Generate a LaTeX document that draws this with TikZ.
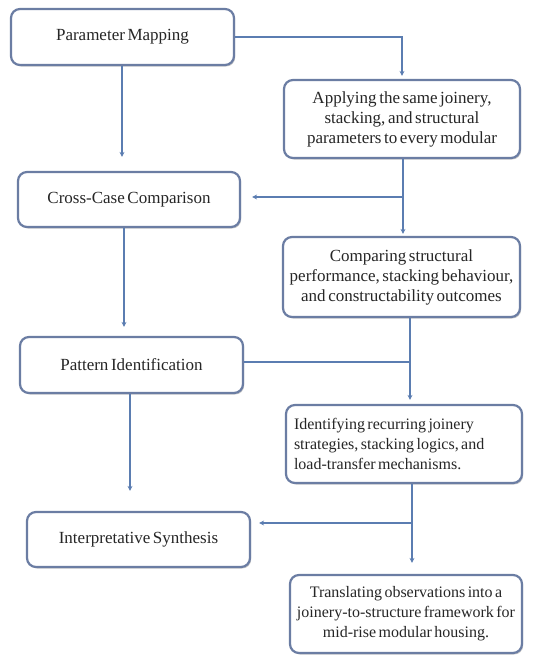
\documentclass[tikz,border=0pt]{standalone}
\usepackage{fontspec}
\setmainfont{Liberation Serif}
\usetikzlibrary{arrows.meta,shadows}
\definecolor{boxline}{HTML}{6B7DA3}
\definecolor{connblue}{HTML}{5B7DB1}
\newcommand{\boxfont}{\fontsize{17}{20}\selectfont\spaceskip=2.6pt plus 1pt minus 0.5pt\relax}
\newcommand{\smallboxfont}{\fontsize{16}{20}\selectfont\spaceskip=2.4pt plus 1pt minus 0.5pt\relax}
\newcommand{\tightsp}{\spaceskip=2.4pt plus 1pt minus 0.5pt\relax}
\tikzset{
  box/.style={draw=boxline, line width=2.2pt, rounded corners=9pt, fill=white,
    drop shadow={shadow xshift=1.2pt, shadow yshift=-1.5pt, fill=black!35, opacity=0.6},
    font=\boxfont, text=black!85, inner sep=3pt},
  connline/.style={draw=connblue, line width=2.2pt},
  arr/.style={connline, -{Stealth[length=5pt,width=5pt]}},
}
\begin{document}
\begin{tikzpicture}[x=1pt,y=-1pt]
\useasboundingbox (0,0) rectangle (533,656);
\node[box, minimum width=223pt, minimum height=56pt, align=center] (b1) at (122.5,37) {Parameter Mapping};
\node[box, minimum width=236pt, minimum height=78pt, align=center] (b2) at (402,119) {Applying the same joinery,\\ stacking, and structural\\ parameters to every modular};
\node[box, minimum width=222pt, minimum height=55pt, align=center] (b3) at (129,199.5) {Cross-Case Comparison};
\node[box, minimum width=237pt, minimum height=80pt, align=center] (b4) at (401.5,277) {Comparing structural\\ performance, stacking behaviour,\\ and constructability outcomes};
\node[box, minimum width=223pt, minimum height=56pt, align=center] (b5) at (131.5,365) {Pattern Identification};
\node[box, minimum width=236pt, minimum height=78pt, font=\smallboxfont, text width=220pt, align=flush left] (b6) at (404,444) {\tightsp Identifying recurring joinery\\ strategies, stacking logics, and\\ load-transfer mechanisms.};
\node[box, minimum width=223pt, minimum height=55pt, align=center] (b7) at (138.5,539.5) {Interpretative Synthesis};
\node[box, minimum width=232pt, minimum height=78pt, font=\smallboxfont, align=center] (b8) at (406,614) {Translating observations into a\\ joinery-to-structure framework for\\ mid-rise modular housing.};

% junction coordinates
\coordinate (j1) at (403,197);
\coordinate (j2) at (410,362);
\coordinate (j3) at (412,523);

\draw[arr, shorten >=3pt] (b1.east) -| (b2.north);
\draw[arr, shorten >=14pt] (b1.south -| 122,0) -- (b3.north -| 122,0);
\draw[arr, shorten >=2pt] (b2.south -| j1) -- (b4.north -| j1);
\draw[arr, shorten >=11pt] (j1) -- (b3.east |- j1);
\draw[arr, shorten >=9pt] (b3.south -| 124,0) -- (b5.north -| 124,0);
\draw[arr, shorten >=4pt] (b4.south -| j2) -- (b6.north -| j2);
\draw[connline] (b5.east |- j2) -- (j2);
\draw[arr, shorten >=20pt] (b5.south -| 130,0) -- (b7.north -| 130,0);
\draw[arr, shorten >=11pt] (b6.south -| j3) -- (b8.north -| j3);
\draw[arr, shorten >=8pt] (j3) -- (b7.east |- j3);
\end{tikzpicture}
\end{document}
